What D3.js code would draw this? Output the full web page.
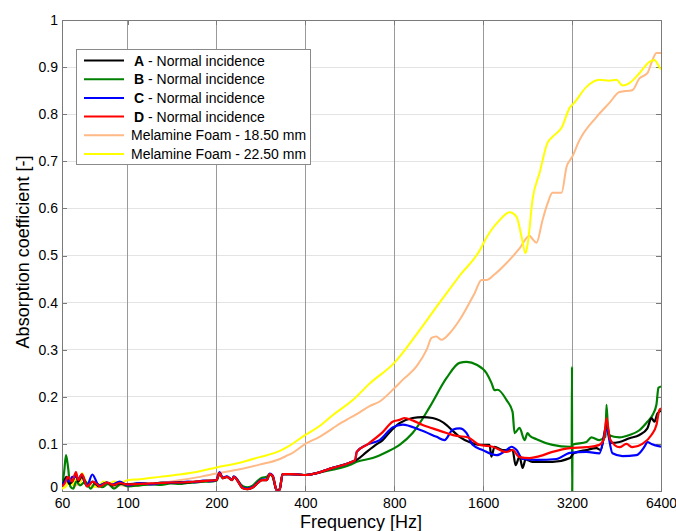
<!DOCTYPE html>
<html>
<head>
<meta charset="utf-8">
<script src="https://cdn.jsdelivr.net/npm/d3@7"></script>
<style>
  html, body { margin: 0; padding: 0; background: #fff; }
  svg { display: block; font-family: "Liberation Sans", Arial, sans-serif; }
</style>
</head>
<body>
<div id="chart"></div>
<script>
// ---------------- DATA ----------------
const xTicks = [60, 100, 200, 400, 800, 1600, 3200, 6400];
const yTicks = [0, 0.1, 0.2, 0.3, 0.4, 0.5, 0.6, 0.7, 0.8, 0.9, 1];
const yTickLabels = ["0", "0.1", "0.2", "0.3", "0.4", "0.5", "0.6", "0.7", "0.8", "0.9", "1"];
const xLabel = "Frequency [Hz]";
const yLabel = "Absorption coefficient [-]";

// [frequency Hz, absorption]
const seriesA = [
  [60,0.01],[61,0.02],[62,0.03],[63.5,0.015],[65,0.02],[67,0.035],[68,0.02],[70,0.03],[73,0.01],[76,0.02],
  [80,0.01],[85,0.018],[89,0.012],[94,0.016],[100,0.014],[110,0.016],[120,0.015],[130,0.018],[140,0.017],
  [150,0.019],[160,0.018],[170,0.02],[180,0.021],[190,0.022],[200,0.023],[205,0.038],[210,0.027],[217,0.03],
  [226,0.023],[229,0.03],[246,0.006],[255,0.004],[266,0.008],[276,0.017],[285,0.023],[296,0.023],[303,0.036],
  [310,0.032],[318,0.005],[323,0.0],[328,0.005],[335,0.036],[354,0.036],[380,0.035],[400,0.034],[437,0.038],
  [495,0.049],[565,0.06],[597,0.066],[645,0.083],[700,0.1],[731,0.108],[772,0.125],[834,0.144],[923,0.155],
  [998,0.157],[1079,0.155],[1203,0.14],[1251,0.13],[1331,0.115],[1462,0.102],[1556,0.098],[1682,0.098],
  [1705,0.073],[1749,0.094],[1861,0.087],[2012,0.087],[2060,0.055],[2125,0.073],[2175,0.049],[2230,0.068],
  [2260,0.066],[2350,0.062],[2747,0.062],[3150,0.07],[3240,0.08],[3580,0.087],[3870,0.091],[4000,0.087],
  [4184,0.14],[4350,0.102],[4630,0.104],[5004,0.112],[5408,0.119],[5755,0.133],[5940,0.155],[6080,0.147],
  [6226,0.165],[6400,0.17]
];
const seriesB = [
  [60,0.01],[61,0.04],[61.9,0.076],[62.9,0.05],[64,0.01],[65.5,0.005],[67,0.02],[69,0.012],[72,0.02],[75,0.005],
  [78,0.018],[82,0.008],[86,0.015],[90,0.005],[95,0.015],[100,0.01],[110,0.012],[120,0.014],[130,0.013],
  [140,0.016],[150,0.015],[160,0.017],[170,0.018],[180,0.02],[190,0.02],[200,0.022],[205,0.036],[210,0.028],
  [217,0.03],[226,0.025],[229,0.03],[246,0.01],[255,0.008],[266,0.012],[276,0.022],[285,0.028],[296,0.03],
  [303,0.036],[310,0.03],[318,0.005],[323,0.0],[328,0.005],[335,0.036],[354,0.036],[400,0.034],[437,0.038],
  [495,0.045],[565,0.055],[597,0.062],[676,0.07],[754,0.083],[834,0.098],[923,0.123],[1054,0.178],[1203,0.24],
  [1331,0.272],[1406,0.274],[1520,0.268],[1643,0.25],[1708,0.229],[1749,0.214],[1790,0.215],[1920,0.193],
  [2012,0.168],[2044,0.123],[2125,0.134],[2209,0.108],[2261,0.123],[2296,0.118],[2425,0.11],[2747,0.098],
  [3150,0.094],[3190,0.094],[3198,0.264],[3202,-0.03],[3210,0.098],[3580,0.104],[3720,0.114],[3960,0.108],
  [4150,0.115],[4184,0.183],[4250,0.119],[4630,0.114],[5004,0.119],[5408,0.129],[5755,0.147],[5987,0.161],
  [6175,0.183],[6274,0.219],[6400,0.222]
];
const seriesC = [
  [60,0.012],[61,0.018],[62,0.025],[63.5,0.02],[65,0.03],[67,0.03],[68,0.025],[70,0.035],[73,0.012],[76,0.035],
  [80,0.012],[85,0.018],[89,0.014],[94,0.02],[100,0.012],[110,0.017],[120,0.014],[130,0.017],[140,0.018],
  [150,0.018],[160,0.02],[170,0.019],[180,0.022],[190,0.021],[200,0.024],[205,0.04],[210,0.028],[217,0.031],
  [226,0.024],[229,0.031],[246,0.007],[255,0.005],[266,0.009],[276,0.018],[285,0.024],[296,0.024],[303,0.037],
  [310,0.033],[318,0.005],[323,0.0],[328,0.005],[335,0.036],[354,0.036],[380,0.035],[400,0.034],[437,0.038],
  [495,0.049],[565,0.06],[590,0.066],[597,0.083],[645,0.098],[714,0.108],[790,0.135],[854,0.141],[975,0.13],
  [1113,0.115],[1184,0.108],[1261,0.13],[1331,0.133],[1406,0.123],[1474,0.098],[1592,0.087],[1776,0.076],
  [1920,0.087],[1996,0.094],[2076,0.087],[2175,0.068],[2425,0.066],[2834,0.068],[3150,0.081],[3580,0.083],
  [3960,0.08],[4184,0.13],[4385,0.08],[4740,0.074],[5284,0.076],[5625,0.094],[5755,0.104],[5940,0.1],[6400,0.094]
];
const seriesD = [
  [60,0.01],[61.4,0.017],[62.9,0.03],[64.9,0.02],[66.9,0.04],[68.1,0.023],[70.1,0.036],[72.9,0.01],[76.4,0.02],
  [80.7,0.01],[85.2,0.018],[89.3,0.013],[94.3,0.017],[99.4,0.014],[110,0.015],[120,0.016],[130,0.017],[140,0.018],
  [150,0.018],[160,0.019],[170,0.02],[180,0.021],[190,0.022],[200,0.023],[205,0.038],[210,0.027],[217,0.03],
  [226,0.023],[229,0.03],[246,0.006],[255,0.004],[266,0.008],[276,0.017],[285,0.023],[296,0.023],[303,0.036],
  [310,0.032],[318,0.005],[323,-0.005],[328,0.005],[335,0.036],[354,0.036],[380,0.035],[400,0.034],[437,0.038],
  [495,0.049],[565,0.06],[590,0.066],[597,0.083],[645,0.098],[731,0.125],[790,0.147],[834,0.151],[868,0.155],
  [923,0.15],[998,0.14],[1079,0.133],[1203,0.123],[1301,0.117],[1417,0.114],[1556,0.098],[1722,0.094],
  [1920,0.083],[2012,0.087],[2125,0.072],[2296,0.07],[2483,0.074],[2747,0.083],[3150,0.091],[3580,0.093],
  [3960,0.098],[4100,0.11],[4184,0.155],[4300,0.11],[4630,0.093],[4887,0.1],[5120,0.093],[5537,0.1],
  [5940,0.119],[6175,0.14],[6320,0.172],[6400,0.175]
];
const seriesFoam18 = [
  [60,0.005],[62,0.012],[64,0.02],[66,0.01],[68,0.015],[71,0.025],[73,0.01],[76,0.012],[80,0.008],[85,0.015],
  [90,0.008],[95,0.012],[100,0.01],[110,0.012],[129,0.017],[150,0.023],[176,0.03],[200,0.037],[240,0.046],
  [280,0.056],[328,0.068],[349,0.076],[360,0.08],[400,0.1],[447,0.115],[495,0.133],[530,0.145],[565,0.155],
  [611,0.167],[660,0.18],[714,0.19],[800,0.218],[854,0.236],[953,0.265],[1030,0.3],[1070,0.325],[1110,0.328],
  [1157,0.321],[1232,0.335],[1331,0.363],[1497,0.42],[1580,0.448],[1643,0.448],[1750,0.46],[1920,0.484],
  [2125,0.515],[2296,0.542],[2350,0.535],[2425,0.527],[2541,0.575],[2642,0.61],[2747,0.633],[2947,0.633],
  [3064,0.688],[3200,0.709],[3390,0.745],[3870,0.794],[4280,0.824],[4630,0.847],[5120,0.851],[5408,0.876],
  [5755,0.887],[5940,0.909],[6175,0.93],[6400,0.93]
];
const seriesFoam22 = [
  [60,0.005],[62,0.01],[63,0.02],[65,0.013],[67,0.025],[69,0.015],[70.1,0.038],[72,0.023],[74,0.012],[76,0.008],
  [80,0.012],[83,0.02],[86,0.015],[90,0.02],[95,0.018],[100,0.023],[110,0.025],[129,0.03],[150,0.035],
  [176,0.042],[200,0.05],[240,0.06],[280,0.072],[328,0.085],[349,0.094],[400,0.119],[447,0.138],[495,0.161],
  [579,0.193],[660,0.228],[800,0.272],[953,0.333],[1139,0.4],[1331,0.457],[1580,0.518],[1600,0.525],
  [1818,0.575],[1965,0.592],[2076,0.582],[2158,0.54],[2226,0.505],[2270,0.53],[2350,0.618],[2483,0.675],
  [2642,0.739],[2747,0.752],[2947,0.771],[3150,0.815],[3240,0.823],[3580,0.858],[3960,0.873],[4280,0.871],
  [4520,0.873],[4740,0.861],[5004,0.866],[5408,0.887],[5850,0.911],[6080,0.915],[6320,0.9],[6400,0.895]
];

const seriesNames = ["A", "B", "C", "D", "Melamine Foam - 18.50 mm", "Melamine Foam - 22.50 mm"];
const seriesColors = ["#000000", "#008000", "#0000ff", "#ff0000", "#ffb985", "#ffff00"];

// ---------------- CHART ----------------
const W = 676, H = 531;
const x = d3.scaleLog().domain([60, 6400]).range([62, 661]);
const y = d3.scaleLinear().domain([0, 1]).range([491, 20]);

const svg = d3.select("#chart").append("svg").attr("width", W).attr("height", H);

svg.append("defs").append("clipPath").attr("id", "clip")
  .append("rect").attr("x", 62).attr("y", 20).attr("width", 599).attr("height", 471);

// horizontal grid
svg.append("g").selectAll("line").data(yTicks.slice(1, -1)).join("line")
  .attr("x1", 62).attr("x2", 661).attr("y1", d => y(d)).attr("y2", d => y(d))
  .attr("stroke", "#e3e3e3").attr("stroke-width", 1).attr("shape-rendering", "crispEdges");
// vertical grid
svg.append("g").selectAll("line").data(xTicks.slice(1, -1)).join("line")
  .attr("x1", d => x(d)).attr("x2", d => x(d)).attr("y1", 20).attr("y2", 491)
  .attr("stroke", "#9a9a9a").attr("stroke-width", 1).attr("shape-rendering", "crispEdges");

// axes
const axL = svg.append("g").attr("transform", "translate(62,0)")
  .call(d3.axisLeft(y).tickValues(yTicks).tickFormat((d, i) => yTickLabels[i]).tickSizeInner(-5).tickSizeOuter(0).tickPadding(4));
const axR = svg.append("g").attr("transform", "translate(661,0)")
  .call(d3.axisRight(y).tickValues(yTicks).tickFormat("").tickSizeInner(-5).tickSizeOuter(0));
const axB = svg.append("g").attr("transform", "translate(0,491)")
  .call(d3.axisBottom(x).tickValues(xTicks).tickFormat(d3.format("d")).tickSizeInner(-5).tickSizeOuter(0).tickPadding(7));
const axT = svg.append("g").attr("transform", "translate(0,20)")
  .call(d3.axisTop(x).tickValues(xTicks).tickFormat("").tickSizeInner(-5).tickSizeOuter(0));
[axL, axR, axB, axT].forEach(g => {
  g.selectAll("path").attr("stroke", "#7a7a7a").attr("shape-rendering", "crispEdges");
  g.selectAll("line").attr("stroke", "#7a7a7a").attr("shape-rendering", "crispEdges");
  g.selectAll("text").attr("font-size", 14).attr("fill", "#000")
    .attr("font-family", "'Liberation Sans', Arial, sans-serif");
});
// lift the "0" label slightly so it does not collide with "60"
axL.selectAll(".tick text").filter(d => d === 0).attr("dy", "0.0em");

// lines
const line = d3.line().x(d => x(d[0])).y(d => y(d[1])).curve(d3.curveMonotoneX);
const drawOrder = [
  [seriesFoam18, 4], [seriesFoam22, 5], [seriesB, 1], [seriesA, 0], [seriesC, 2], [seriesD, 3]
];
const gLines = svg.append("g").attr("clip-path", "url(#clip)");
drawOrder.forEach(([data, i]) => {
  gLines.append("path").datum(data).attr("d", line)
    .attr("fill", "none").attr("stroke", seriesColors[i])
    .attr("stroke-width", i >= 4 ? 2 : 2.2).attr("stroke-linejoin", "round");
});

// axis labels
svg.append("text").attr("x", 361).attr("y", 528).attr("text-anchor", "middle")
  .attr("font-size", 18).text(xLabel);
svg.append("text").attr("transform", "translate(29,252) rotate(-90)").attr("text-anchor", "middle")
  .attr("font-size", 18).text(yLabel);

// legend
const lg = svg.append("g");
lg.append("rect").attr("x", 76.5).attr("y", 49.5).attr("width", 234).attr("height", 115)
  .attr("fill", "#fff").attr("stroke", "#8a8a8a").attr("stroke-width", 1);
seriesNames.forEach((name, i) => {
  const yy = 60.5 + i * 18.7;
  lg.append("line").attr("x1", 84).attr("x2", 124).attr("y1", yy).attr("y2", yy)
    .attr("stroke", seriesColors[i]).attr("stroke-width", 2);
  const t = lg.append("text").attr("y", yy + 5).attr("font-size", 14);
  if (i < 4) {
    t.attr("x", 134);
    t.append("tspan").attr("font-weight", "bold").text(name);
    t.append("tspan").text(" - Normal incidence");
  } else {
    t.attr("x", 131).text(name);
  }
});
</script>
</body>
</html>
